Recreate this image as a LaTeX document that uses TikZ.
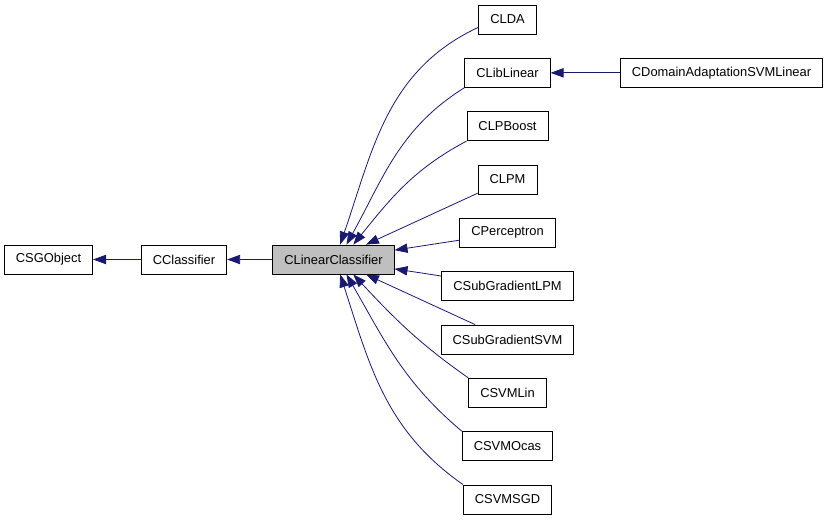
\documentclass[tikz,border=0pt]{standalone}
\usepackage{fontspec}
\setmainfont{Liberation Sans}
\usetikzlibrary{positioning,arrows.meta}
\definecolor{linkblue}{HTML}{191970}
\definecolor{basegray}{HTML}{BFBFBF}
\begin{document}
\begin{tikzpicture}[x=1pt,y=1pt,node distance=53.33pt,
  >={Triangle[length=13pt,width=9.3pt]},
  class node/.style={rectangle,draw,line width=0.8pt,minimum height=29pt,
    inner xsep=11.5pt,font=\fontsize{12.9}{15}\selectfont},
  base node/.style={class node,fill=basegray}]

  \useasboundingbox (0,0) rectangle (827,-520);

  \node[base node] (lin) at (333.5,-259.5) {CLinearClassifier};
  \node[class node] (cls) [left of=lin, node distance=149.5pt] {CClassifier};
  \node[class node] (sgo) [left of=cls, node distance=135.5pt] {CSGObject};

  \node[class node] (lda) at (507.5,-19.5) {CLDA};
  \node[class node] (liblin) [below of=lda] {CLibLinear};
  \node[class node] (lpb) [below of=liblin] {CLPBoost};
  \node[class node] (lpm) [below of=lpb] {CLPM};
  \node[class node] (perc) [below of=lpm] {CPerceptron};
  \node[class node] (sglpm) [below of=perc] {CSubGradientLPM};
  \node[class node] (sgsvm) [below of=sglpm] {CSubGradientSVM};
  \node[class node] (svmlin) [below of=sgsvm] {CSVMLin};
  \node[class node] (ocas) [below of=svmlin] {CSVMOcas};
  \node[class node] (sgd) [below of=ocas] {CSVMSGD};
  \node[class node] (dasvm) [right of=liblin, node distance=214pt] {CDomainAdaptationSVMLinear};

  \path[every edge/.style={draw=linkblue,line width=0.8pt,<-}]
    (sgo) edge (cls)
    (cls) edge (lin)
    (liblin) edge (dasvm)
    (lin.66) edge[out=71,in=205] (lda.195)
    (lin.49) edge[out=61,in=212] (liblin.south west)
    (lin.37) edge[out=51,in=208] (lpb.south west)
    (lin) edge (lpm)
          edge (perc)
          edge (sglpm)
          edge (sgsvm)
    (lin.-37) edge[out=-47,in=145] (svmlin.north west)
    (lin.-49) edge[out=-60,in=140] (ocas.north west)
    (lin.-66) edge[out=-72,in=145] (sgd.north west)
    ;
\end{tikzpicture}
\end{document}
